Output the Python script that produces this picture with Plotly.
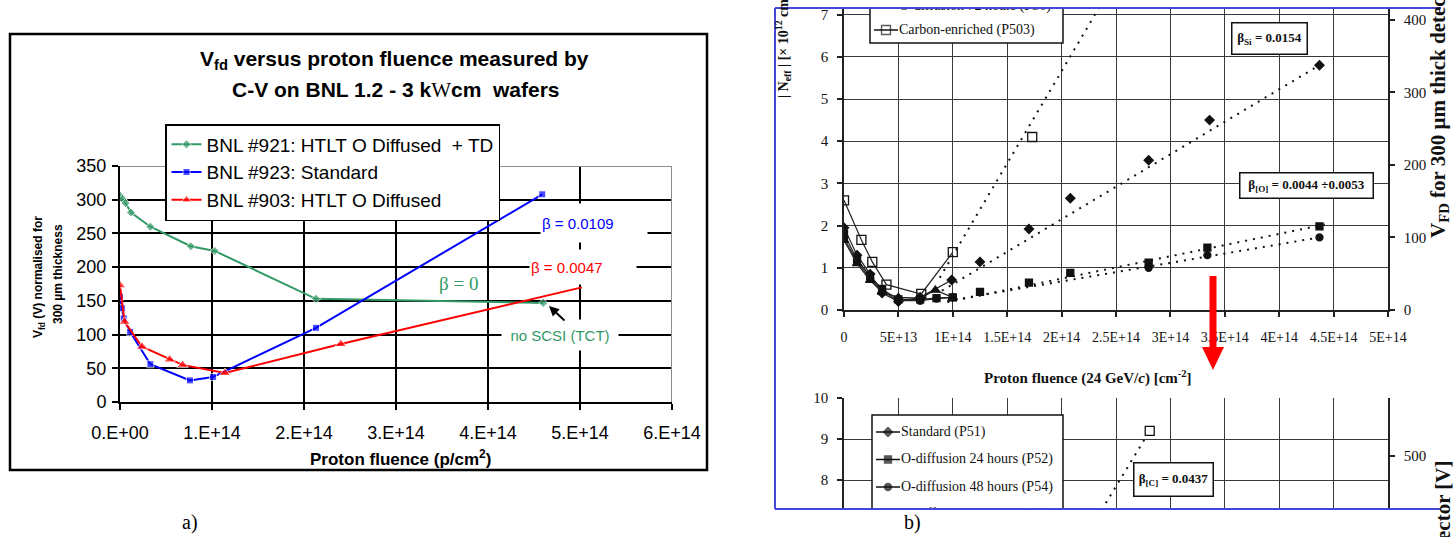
import plotly.graph_objects as go

W, H = 1455, 537

# ---------------- panel a): Vfd versus proton fluence (C-V, BNL wafers) ----------------
FLU_921 = [0, 3e12, 6e12, 1.2e13, 3.3e13, 7.7e13, 1.03e14, 2.13e14, 4.6e14]
VFD_921 = [306, 301, 295, 281, 260, 231, 224, 153, 147]
FLU_923 = [0, 2e12, 4e12, 1.1e13, 3.3e13, 7.6e13, 1.01e14, 2.13e14, 4.59e14]
VFD_923 = [156, 139, 124, 104, 56, 32, 37, 110, 308]
FLU_903 = [0, 5e12, 2.4e13, 5.4e13, 6.8e13, 1.14e14, 2.4e14, 5.02e14]
VFD_903 = [173, 119, 82, 63, 55, 43, 86, 170]
NAMES_A = ["BNL #921: HTLT O Diffused\u00a0 + TD",
           "BNL #923: Standard",
           "BNL #903: HTLT O Diffused"]
A_X_TICKS = [0, 1e14, 2e14, 3e14, 4e14, 5e14, 6e14]
A_X_LABELS = ["0.E+00", "1.E+14", "2.E+14", "3.E+14", "4.E+14", "5.E+14", "6.E+14"]
A_Y_TICKS = [0, 50, 100, 150, 200, 250, 300, 350]

# ---------------- panel b): |Neff| versus 24 GeV/c proton fluence ----------------
NAMES_B = ["Standard (P51)", "O-diffusion 24 hours (P52)", "O-diffusion 48 hours (P54)",
           "O-diffusion 72 hours (P56)", "Carbon-enriched (P503)"]
FLU_P51 = [0, 1.2e13, 2.4e13, 3.5e13, 5.0e13, 7.0e13, 9.9e13, 1.25e14, 1.7e14, 2.08e14, 2.8e14, 3.36e14, 4.37e14]
NEFF_P51 = [1.95, 1.3, 0.85, 0.4, 0.2, 0.3, 0.71, 1.14, 1.92, 2.65, 3.55, 4.5, 5.8]
FLU_P52 = [0, 1.2e13, 2.4e13, 3.5e13, 5e13, 7e13, 8.5e13, 1.0e14, 1.25e14, 1.7e14, 2.08e14, 2.8e14, 3.34e14, 4.37e14]
NEFF_P52 = [1.8, 1.2, 0.8, 0.5, 0.25, 0.25, 0.28, 0.3, 0.43, 0.65, 0.88, 1.12, 1.48, 1.98]
FLU_P54 = [0, 1.2e13, 2.4e13, 3.5e13, 5e13, 7e13, 8.5e13, 1.0e14, 2.8e14, 3.34e14, 4.37e14]
NEFF_P54 = [1.7, 1.15, 0.75, 0.45, 0.22, 0.22, 0.27, 0.3, 1.0, 1.3, 1.72]
FLU_P56 = [0, 1.2e13, 2.4e13, 3.5e13, 5e13, 7e13, 8.4e13, 1.0e14]
NEFF_P56 = [1.65, 1.1, 0.7, 0.42, 0.3, 0.28, 0.47, 0.3]
FLU_P503 = [0, 1.6e13, 2.6e13, 3.9e13, 7.1e13, 1.0e14, 1.73e14, 2.81e14]
NEFF_P503 = [2.6, 1.66, 1.14, 0.6, 0.38, 1.37, 4.1, 9.2]
B_X_TICKS = [0, 5e13, 1e14, 1.5e14, 2e14, 2.5e14, 3e14, 3.5e14, 4e14, 4.5e14, 5e14]
B_X_LABELS = ["0", "5E+13", "1E+14", "1.5E+14", "2E+14", "2.5E+14", "3E+14",
              "3.5E+14", "4E+14", "4.5E+14", "5E+14"]

# linear fits: slope beta [cm^-1], anchor point and fitted fluence interval
FIT_BETA = [0.0154, 0.0053, 0.0044, 0.0437]
FIT_ANCHOR_X = [4.37e14, 4.37e14, 4.37e14, 2.81e14]
FIT_ANCHOR_Y = [5.8, 2.0, 1.72, 9.2]
FIT_FROM = [0.9e14, 0.95e14, 0.95e14, 0.88e14]
FIT_TO = [4.42e14, 4.42e14, 4.42e14, 2.78e14]

# ---------------- geometry (pixels) ----------------
A_L, A_R, A_B, A_T = 120, 672, 402, 166
B_L, B_R = 844, 1388
BU_ZERO, BU_TOP, BU_PX = 310, 8, 42.2      # upper plot: y of 0, clipping top, px per 1e12
BL_TEN, BL_BOT, BL_PX = 398, 509, 41       # lower plot: y of 10, clipping bottom, px per 1e12
V_PER_UNIT = 58.2                          # volts (300 um) per 1e12 cm^-3
BU_RANGE = [0, (BU_ZERO - BU_TOP) / BU_PX]
BL_RANGE = [10 - (BL_BOT - BL_TEN) / BL_PX, 10]

ARIAL = "Liberation Sans, Arial, sans-serif"
TIMES = "Liberation Serif, Times New Roman, serif"
GREEN, BLUE, RED = "#339966", "#0000ff", "#ff0000"
GRID_B = "#3a3a3a"


def xp(x):
    return x / W


def yp(y):
    return 1 - y / H


def bx(px_x):
    return (px_x - B_L) / (B_R - B_L) * 5e14


def bu_y(px_y):
    return (BU_ZERO - px_y) / BU_PX


def bl_y(px_y):
    return 10 - (px_y - BL_TEN) / BL_PX


fig = go.Figure()

# ---- panel a) traces
for fx, fy, name, col, sym, size in [
    (FLU_921, VFD_921, NAMES_A[0], GREEN, "diamond", 7),
    (FLU_923, VFD_923, NAMES_A[1], BLUE, "square", 7),
    (FLU_903, VFD_903, NAMES_A[2], RED, "triangle-up", 10),
]:
    sizes = [size] * len(fx)
    if col == RED:
        sizes[-1] = 0
    fig.add_trace(go.Scatter(
        x=fx, y=fy, name=name, xaxis="x", yaxis="y", mode="lines+markers",
        line=dict(color=col, width=2), marker=dict(symbol=sym, size=sizes, color=col),
        legend="legend"))

# ---- panel b) traces (same data on upper and lower plots)
SERIES_B = [
    (FLU_P51, NEFF_P51, "diamond", 7, 7),
    (FLU_P52, NEFF_P52, "square", 7, 8),
    (FLU_P54, NEFF_P54, "circle", 7, 8),
    (FLU_P56, NEFF_P56, "triangle-up", 8, 8),
    (FLU_P503, NEFF_P503, "square-open", 9, 6),
]
for xa, ya in [("x2", "y2"), ("x3", "y4")]:
    for fx, fy, sym, size, n_joined in SERIES_B:
        fig.add_trace(go.Scatter(
            x=fx[:n_joined], y=fy[:n_joined], xaxis=xa, yaxis=ya, mode="lines+markers",
            line=dict(color="#222", width=1.2),
            marker=dict(symbol=sym, size=size, color="#111", line=dict(color="#111", width=1.3)),
            showlegend=False))
        fig.add_trace(go.Scatter(
            x=fx[n_joined:], y=fy[n_joined:], xaxis=xa, yaxis=ya, mode="markers",
            marker=dict(symbol=sym, size=size, color="#111", line=dict(color="#111", width=1.3)),
            showlegend=False))
    for beta, ax0, ay0, f0, f1 in zip(FIT_BETA, FIT_ANCHOR_X, FIT_ANCHOR_Y, FIT_FROM, FIT_TO):
        fx = [f0, f1]
        fy = [ay0 + beta * (f - ax0) / 1e12 for f in fx]
        fig.add_trace(go.Scatter(
            x=fx, y=fy, xaxis=xa, yaxis=ya, mode="lines",
            line=dict(color="#111", width=2, dash="2px,6px"), showlegend=False))

# right-hand voltage axes of panel b): Standard (P51) end point expressed in volts
for xa, ya in [("x2", "y3"), ("x3", "y5")]:
    fig.add_trace(go.Scatter(
        x=FLU_P51[-1:], y=[NEFF_P51[-1] * V_PER_UNIT], xaxis=xa, yaxis=ya, mode="markers",
        marker=dict(size=1, opacity=0), showlegend=False, hoverinfo="skip"))

# ---- panel b) legends, drawn inside the plots so they are cropped with them
shapes = []
legend_specs = [
    ("x2", "y2", bu_y, 870, 1063, [30 - (4 - i) * 24 for i in range(5)]),
    ("x3", "y4", bl_y, 872, 1063, [432 + i * 27.5 for i in range(5)]),
]
for xa, ya, conv, left, right, rows in legend_specs:
    shapes.append(dict(type="rect", xref=xa, yref=ya, layer="between",
                       x0=bx(left), x1=bx(right), y0=conv(rows[0] - 17), y1=conv(rows[-1] + 13),
                       fillcolor="white", line=dict(color="#111", width=1.5)))
    for (fx, fy, sym, size, _), name, row in zip(SERIES_B, NAMES_B, rows):
        fig.add_trace(go.Scatter(
            x=[bx(left + 4), bx(left + 16), bx(left + 28)], y=[conv(row)] * 3,
            xaxis=xa, yaxis=ya, mode="lines+markers",
            line=dict(color="#111", width=1.5),
            marker=dict(symbol=sym, size=[0, size, 0], color="#111",
                        line=dict(color="#111", width=1.3)),
            showlegend=False, hoverinfo="skip"))
        fig.add_trace(go.Scatter(
            x=[bx(left + 29)], y=[conv(row)], xaxis=xa, yaxis=ya, mode="text",
            text=[name], textposition="middle right",
            textfont=dict(family=TIMES, size=14, color="#111"),
            showlegend=False, hoverinfo="skip"))

# ---- frames and decorations
shapes += [
    # panel a) plot-area top/right border (grey)
    dict(type="line", xref="x", yref="y", x0=0, x1=6e14, y0=350, y1=350,
         line=dict(color="#8c8c8c", width=2), layer="above"),
    dict(type="line", xref="x", yref="y", x0=6e14, x1=6e14, y0=0, y1=350,
         line=dict(color="#8c8c8c", width=2), layer="above"),
    # panel a) chart border
    dict(type="rect", xref="paper", yref="paper", x0=xp(10), x1=xp(707), y0=yp(470), y1=yp(34),
         line=dict(color="black", width=2.5), fillcolor="rgba(0,0,0,0)", layer="above"),
    # panel b) blue frame
    dict(type="line", xref="paper", yref="paper", x0=xp(775), x1=xp(1441), y0=yp(8), y1=yp(8),
         line=dict(color="#4646d8", width=2), layer="above"),
    dict(type="line", xref="paper", yref="paper", x0=xp(775), x1=xp(1441), y0=yp(509), y1=yp(509),
         line=dict(color="#4646d8", width=2), layer="above"),
    dict(type="line", xref="paper", yref="paper", x0=xp(775), x1=xp(775), y0=yp(8), y1=yp(509),
         line=dict(color="#4646d8", width=2), layer="above"),
    # red arrow between the two plots of panel b)
    dict(type="line", xref="paper", yref="paper", x0=xp(1213), x1=xp(1213), y0=yp(276), y1=yp(350),
         line=dict(color="#ff0000", width=7), layer="above"),
    dict(type="path", xref="paper", yref="paper",
         path=f"M {xp(1202)} {yp(347)} L {xp(1224)} {yp(347)} L {xp(1213)} {yp(370)} Z",
         fillcolor="#ff0000", line=dict(color="#ff0000", width=0), layer="above"),
]


def ann(text, x, y, **kw):
    d = dict(text=text, x=xp(x), y=yp(y), xref="paper", yref="paper", showarrow=False,
             xanchor="center", yanchor="middle")
    d.update(kw)
    return d


title_font = dict(family=ARIAL, size=21, color="black")
annotations = [
    ann("<b>V<sub>fd</sub> versus proton fluence measured by</b>", 394, 60, font=title_font),
    ann("<b>C-V on BNL 1.2 - 3 k<span style='font-family:Liberation Serif;font-weight:normal'>W</span>cm"
        "\u00a0 wafers</b>", 396, 90, font=title_font),
    ann("<b>V<sub>fd</sub> (V) normalised for</b>", 39, 277, textangle=-90,
        font=dict(family=ARIAL, size=12, color="black")),
    ann("<b>300 \u00b5m thickness</b>", 58, 274, textangle=-90,
        font=dict(family=ARIAL, size=12, color="black")),
    ann("<b>Proton fluence (p/cm<sup>2</sup>)</b>", 400, 458,
        font=dict(family=ARIAL, size=17, color="black")),
    ann("\u03b2 = 0.0109", 540, 223, xanchor="left", align="left", width=104, height=36,
        bgcolor="white", font=dict(family=ARIAL, size=15, color=BLUE)),
    ann("\u03b2 = 0.0047", 529, 267, xanchor="left", align="left", width=104, height=32,
        bgcolor="white", font=dict(family=ARIAL, size=15, color=RED)),
    ann("\u03b2 = 0", 458, 283, font=dict(family=TIMES, size=19, color=GREEN)),
    ann("no SCSI (TCT)", 560, 335, width=114, height=28, bgcolor="white",
        font=dict(family=ARIAL, size=15, color=GREEN)),
    dict(text="", x=xp(549), y=yp(306), xref="paper", yref="paper", showarrow=True,
         ax=17, ay=16, arrowhead=2, arrowsize=1, arrowwidth=2, arrowcolor="black"),
    ann("a)", 190, 522, font=dict(family=TIMES, size=20, color="black")),
    ann("b)", 912, 522, font=dict(family=TIMES, size=20, color="black")),
    # panel b) texts
    ann("<b>Proton fluence (24 GeV/<i>c</i>) [cm<sup>-2</sup>]</b>", 1088, 377,
        font=dict(family=TIMES, size=15, color="#111")),
    ann("<b>| N<sub>eff</sub> | [\u00d7 10<sup>12</sup> cm<sup>-3</sup>]</b>", 783, 100,
        textangle=-90, yanchor="bottom", font=dict(family=TIMES, size=14, color="#111")),
    ann("<b>V<sub>FD</sub> for 300 \u00b5m thick detector [V]</b>", 1439, 240,
        textangle=-90, yanchor="bottom", font=dict(family=TIMES, size=21, color="#111")),
    ann("<b>V<sub>FD</sub> for 300 \u00b5m thick detector [V]</b>", 1444, 458,
        textangle=-90, yanchor="top", font=dict(family=TIMES, size=21, color="#111")),
    ann("<b>\u03b2<sub>Si</sub> = 0.0154</b>", 1269, 39, bgcolor="white", bordercolor="#111",
        borderwidth=1.5, borderpad=2, width=70, height=26,
        font=dict(family=TIMES, size=13, color="#111")),
    ann("<b>\u03b2<sub>[O]</sub> = 0.0044 \u00f70.0053</b>", 1306, 186, bgcolor="white",
        bordercolor="#111", borderwidth=1.5, borderpad=2, width=128, height=20,
        font=dict(family=TIMES, size=13, color="#111")),
    ann("<b>\u03b2<sub>[C]</sub> = 0.0437</b>", 1173, 480, bgcolor="white", bordercolor="#111",
        borderwidth=1.5, borderpad=2, width=74, height=28,
        font=dict(family=TIMES, size=13, color="#111")),
]

axis_a = dict(showline=True, linecolor="black", linewidth=2, ticks="outside", ticklen=6,
              tickwidth=2, tickcolor="black", showgrid=True, gridcolor="black", gridwidth=1.5,
              zeroline=False, tickfont=dict(family=ARIAL, size=18, color="black"))
axis_b = dict(showline=True, linecolor="#222", linewidth=1.5, ticks="outside", ticklen=5,
              tickwidth=1.5, tickcolor="#222", showgrid=True, gridcolor=GRID_B, gridwidth=1.4,
              zeroline=False, tickfont=dict(family=TIMES, size=15, color="#111"))

fig.update_layout(
    width=W, height=H, autosize=False,
    margin=dict(l=0, r=0, t=0, b=0, pad=0, autoexpand=False),
    paper_bgcolor="white", plot_bgcolor="white",
    showlegend=True, hovermode=False,
    legend=dict(x=xp(165), y=yp(124), xanchor="left", yanchor="top",
                bgcolor="white", bordercolor="black", borderwidth=1.5,
                font=dict(family=ARIAL, size=19, color="black"),
                itemwidth=30, tracegroupgap=0),
    xaxis=dict(axis_a, domain=[xp(A_L), xp(A_R)], anchor="y", range=[0, 6e14],
               tickvals=A_X_TICKS, ticktext=A_X_LABELS, ticklabelstandoff=7),
    yaxis=dict(axis_a, domain=[yp(A_B), yp(A_T)], anchor="x", range=[0, 350],
               tickvals=A_Y_TICKS, ticklabelstandoff=2),
    xaxis2=dict(axis_b, domain=[xp(B_L), xp(B_R)], anchor="y2", range=[0, 5e14],
                tickvals=B_X_TICKS, ticktext=B_X_LABELS, ticklabelstandoff=8,
                tickfont=dict(family=TIMES, size=14, color="#111")),
    yaxis2=dict(axis_b, domain=[yp(BU_ZERO), yp(BU_TOP)], anchor="x2", range=BU_RANGE,
                tickvals=list(range(0, 8)), ticklabelstandoff=6),
    yaxis3=dict(axis_b, overlaying="y2", side="right", anchor="x2", showgrid=False,
                range=[v * V_PER_UNIT for v in BU_RANGE], tickvals=[0, 100, 200, 300, 400],
                ticklabelstandoff=6),
    xaxis3=dict(axis_b, domain=[xp(B_L), xp(B_R)], anchor="y4", range=[0, 5e14],
                tickvals=B_X_TICKS, showticklabels=False, ticks="", showline=False),
    yaxis4=dict(axis_b, domain=[yp(BL_BOT), yp(BL_TEN)], anchor="x3", range=BL_RANGE,
                tickvals=[7, 8, 9, 10], ticklabelstandoff=6),
    yaxis5=dict(axis_b, overlaying="y4", side="right", anchor="x3", showgrid=False,
                range=[v * V_PER_UNIT for v in BL_RANGE], tickvals=[400, 500, 600],
                ticklabelstandoff=6),
    shapes=shapes,
    annotations=annotations,
)

fig.write_html("out.html")
